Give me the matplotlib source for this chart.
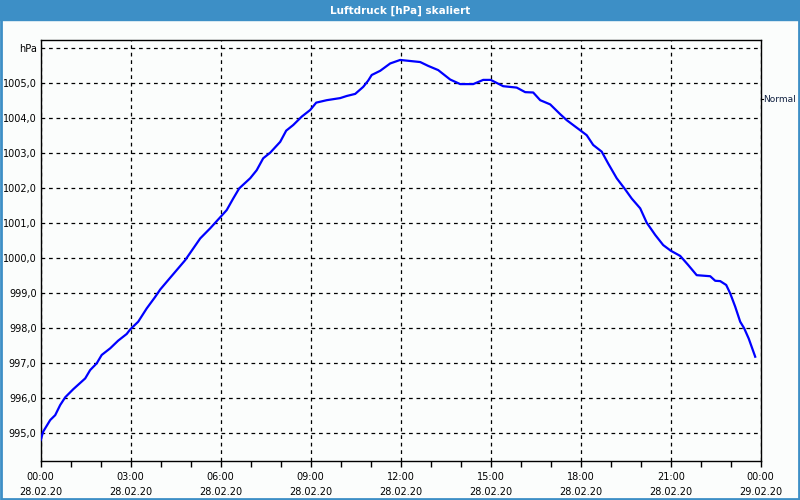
import matplotlib
matplotlib.use("Agg")
import matplotlib.pyplot as plt
import matplotlib.dates as mdates
from matplotlib.patches import Rectangle
import pandas as pd

# pressure readings (time of day, hPa)
times = ["00:00", "00:05", "00:19", "00:29", "00:39", "00:49", "01:05", "01:29", "01:39", "01:52",
         "02:02", "02:19", "02:35", "02:52", "02:59", "03:15", "03:32", "03:49", "03:59", "04:15",
         "04:49", "05:19", "05:39", "06:00", "06:12", "06:25", "06:37", "06:59", "07:12", "07:25",
         "07:39", "07:59", "08:11", "08:25", "08:42", "08:59", "09:11", "09:32", "09:59", "10:12",
         "10:29", "10:45", "10:55", "11:02", "11:19", "11:39", "11:59", "12:19", "12:39", "12:55",
         "13:15", "13:39", "13:59", "14:25", "14:45", "15:00", "15:25", "15:52", "16:09", "16:25",
         "16:39", "16:59", "17:19", "17:32", "17:45", "18:00", "18:12", "18:25", "18:42", "18:55",
         "19:12", "19:29", "19:42", "19:59", "20:12", "20:29", "20:45", "21:00", "21:19", "21:35",
         "21:52", "22:19", "22:29", "22:39", "22:51", "22:59", "23:09", "23:19", "23:27", "23:36",
         "23:49"]
pressure = [994.81, 995.05, 995.38, 995.52, 995.81, 996.03, 996.26, 996.57, 996.81, 997.00,
            997.24, 997.43, 997.65, 997.84, 997.97, 998.19, 998.57, 998.90, 999.11, 999.38,
            999.95, 1000.57, 1000.86, 1001.19, 1001.38, 1001.71, 1002.00, 1002.29, 1002.52, 1002.86,
            1003.02, 1003.33, 1003.65, 1003.81, 1004.05, 1004.24, 1004.45, 1004.52, 1004.58, 1004.64,
            1004.70, 1004.90, 1005.08, 1005.24, 1005.36, 1005.57, 1005.67, 1005.64, 1005.61, 1005.50,
            1005.38, 1005.11, 1004.98, 1004.98, 1005.10, 1005.10, 1004.92, 1004.88, 1004.75, 1004.74,
            1004.52, 1004.40, 1004.12, 1003.95, 1003.81, 1003.65, 1003.52, 1003.24, 1003.05, 1002.71,
            1002.29, 1001.97, 1001.71, 1001.43, 1001.02, 1000.67, 1000.38, 1000.22, 1000.07, 999.81,
            999.52, 999.49, 999.36, 999.35, 999.24, 999.00, 998.62, 998.19, 998.00, 997.71,
            997.19]
yticks = list(range(995, 1007))
ylabels = [f"{v},0" for v in range(995, 1006)] + ["hPa"]

t = pd.to_datetime(["2020-02-28 " + s for s in times])
start = pd.Timestamp("2020-02-28 00:00")
end = pd.Timestamp("2020-02-29 00:00")

blue = "#3d8fc6"
plt.rcParams["font.family"] = "DejaVu Sans"
fig = plt.figure(figsize=(8, 5), dpi=100, facecolor="#fbfdfc")

# title bar and frame
fig.patches.append(Rectangle((0, 0.96), 1, 0.04, transform=fig.transFigure, color=blue, zorder=0))
fig.patches.append(Rectangle((0.001, 0.002), 0.998, 0.996, transform=fig.transFigure,
                             fill=False, edgecolor=blue, lw=2, zorder=0))
fig.text(0.5, 0.979, "Luftdruck [hPa] skaliert", color="white", ha="center", va="center",
         fontsize=7.5, fontweight="bold")

ax = fig.add_axes([40.7 / 800, 1 - 461 / 500, 720 / 800, 421 / 500])
ax.set_facecolor("#fbfdfc")
ax.plot(t, pressure, color="#0000ff", lw=1.6, zorder=3)

ax.set_xlim(start, end)
ax.set_ylim(994.21, 1006.24)
ax.set_yticks(yticks)
ax.set_yticklabels(ylabels)
ax.xaxis.set_minor_locator(mdates.HourLocator())
ticks = pd.date_range(start, end, freq="3h")
ax.set_xticks(ticks)
ax.set_xticklabels([d.strftime("%H:%M\n%d.%m.%y") for d in ticks])

ax.tick_params(axis="x", which="both", direction="out", length=4, width=1, labelsize=7, pad=4)
ax.tick_params(axis="y", length=0, labelsize=7, pad=3)
for lab in ax.get_xticklabels():
    lab.set_linespacing(1.55)

ax.grid(True, which="major", color="black", linestyle=(0, (3, 3)), lw=0.9)
for s in ax.spines.values():
    s.set_color("black")
    s.set_linewidth(1)

# right side series label with its small tick
ax.annotate("Normal", xy=(1.0, 1004.54), xycoords=("axes fraction", "data"),
            xytext=(1.5, 0), textcoords="offset points", va="center", ha="left",
            fontsize=6.5, color="#102040", annotation_clip=False)
ax.plot([1.0, 1.003], [1004.54, 1004.54], color="black", lw=0.8,
        transform=ax.get_yaxis_transform(), clip_on=False)

fig.savefig("out.png", dpi=100, facecolor=fig.get_facecolor())
